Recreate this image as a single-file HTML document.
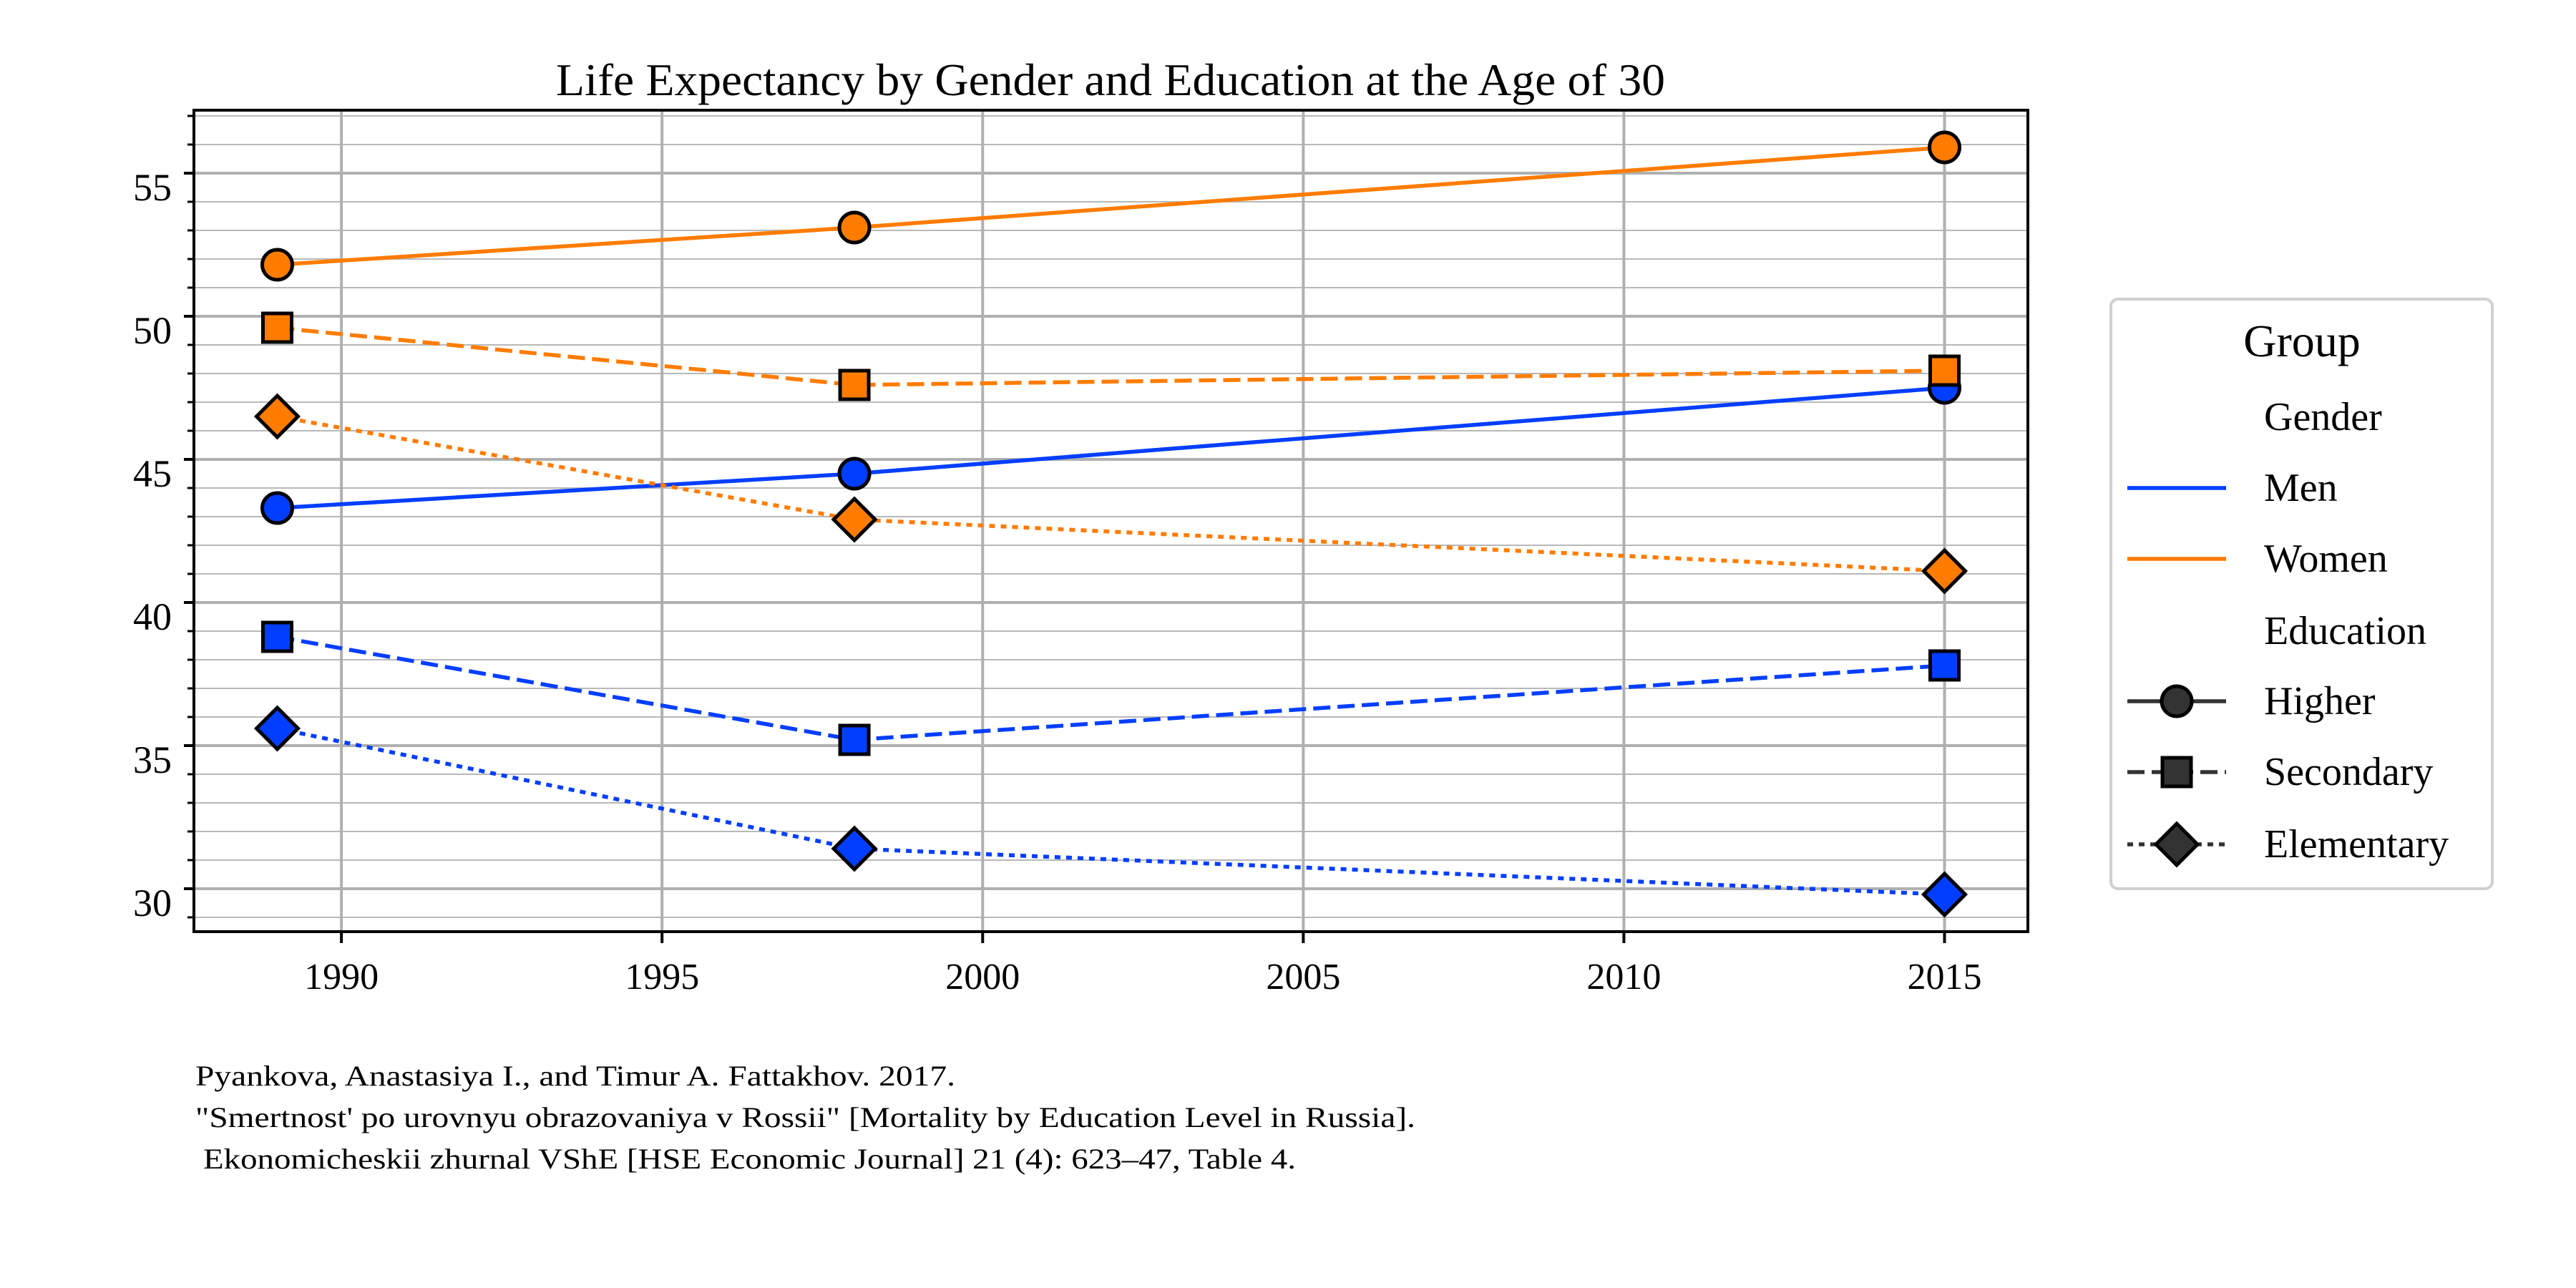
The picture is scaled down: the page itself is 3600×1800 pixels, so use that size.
<!DOCTYPE html>
<html><head><meta charset="utf-8"><style>
html,body{margin:0;padding:0;background:#fff;}
svg{display:block;font-family:"Liberation Serif",serif;}
</style></head><body>
<svg id="chart" width="3600" height="1800" viewBox="0 0 3600 1800">
<g id="grid"></g>
<g id="series"></g>
<g id="axes"></g>
<text x="1552" y="133" font-size="64" text-anchor="middle" textLength="1550" lengthAdjust="spacingAndGlyphs">Life Expectancy by Gender and Education at the Age of 30</text>
<g>
<rect x="2950" y="418" width="533" height="824" rx="10" fill="#fff" stroke="#d0d0d0" stroke-width="4"/>
<text x="3217" y="498" font-size="64" text-anchor="middle">Group</text>
<g id="legend-items"></g>
</g>
<g font-size="40">
<text x="273" y="1517" textLength="1062" lengthAdjust="spacingAndGlyphs">Pyankova, Anastasiya I., and Timur A. Fattakhov. 2017.</text>
<text x="273" y="1575" textLength="1705" lengthAdjust="spacingAndGlyphs">"Smertnost' po urovnyu obrazovaniya v Rossii" [Mortality by Education Level in Russia].</text>
<text x="284" y="1633" textLength="1527" lengthAdjust="spacingAndGlyphs">Ekonomicheskii zhurnal VShE [HSE Economic Journal] 21 (4): 623–47, Table 4.</text>
</g>
</svg>
<script>
const years = [1989, 1998, 2015];
const menHigher = [43.3, 44.5, 47.5];
const menSecondary = [38.8, 35.2, 37.8];
const menElementary = [35.6, 31.4, 29.8];
const womenHigher = [51.8, 53.1, 55.9];
const womenSecondary = [49.6, 47.6, 48.1];
const womenElementary = [46.5, 42.9, 41.1];
const xTicks = [1990, 1995, 2000, 2005, 2010, 2015];
const yTicks = [30, 35, 40, 45, 50, 55];

const NS = "http://www.w3.org/2000/svg";
const L = 271, R = 2834, T = 154, B = 1302;
const X0 = 1987.7, X1 = 2016.3, Y0 = 28.5, Y1 = 57.2;
const sx = v => L + (v - X0) / (X1 - X0) * (R - L);
const sy = v => B - (v - Y0) / (Y1 - Y0) * (B - T);
function mk(tag, attrs, parent) {
  const e = document.createElementNS(NS, tag);
  for (const k in attrs) e.setAttribute(k, attrs[k]);
  parent.appendChild(e);
  return e;
}
const grid = document.getElementById('grid');
const axes = document.getElementById('axes');
const ser = document.getElementById('series');

for (let v = Math.ceil(Y0); v <= Y1; v++) {
  const major = v % 5 === 0;
  const g = mk('line', {x1: L, x2: R, y1: sy(v), y2: sy(v), stroke: major ? '#b0b0b0' : '#b8b8b8', 'stroke-width': major ? 4 : 2}, grid);
  
  
  const t = mk('line', {x1: L - (major ? 14 : 9), x2: L, y1: sy(v), y2: sy(v), stroke: '#000', 'stroke-width': major ? 4 : 3}, axes);
  
  
}
xTicks.forEach(v => {
  const g = mk('line', {x1: sx(v), x2: sx(v), y1: T, y2: B, stroke: '#b0b0b0', 'stroke-width': 4}, grid);
  
  
  const t = mk('line', {x1: sx(v), x2: sx(v), y1: B, y2: B + 16, stroke: '#000', 'stroke-width': 4}, axes);
  
  
  const lb = mk('text', {x: sx(v), y: B + 80, 'font-size': 52, 'text-anchor': 'middle'}, axes);
  lb.textContent = v;
  
  
});
yTicks.forEach(v => {
  const lb = mk('text', {x: 240, y: sy(v) + 38, 'font-size': 54, 'text-anchor': 'end'}, axes);
  lb.textContent = v;
  
  
});
const frame = mk('rect', {x: L, y: T, width: R - L, height: B - T, fill: 'none', stroke: '#000', 'stroke-width': 4}, axes);



const BLUE = '#023eff', ORANGE = '#ff7c00';
const DASH = {higher: null, secondary: '24 10', elementary: '8 8'};
function marker(kind, x, y, fill, parent) {
  let e;
  if (kind === 'higher') e = mk('circle', {cx: x, cy: y, r: 21}, parent);
  else if (kind === 'secondary') e = mk('rect', {x: x - 20, y: y - 20, width: 40, height: 40}, parent);
  else e = mk('polygon', {points: `${x},${y-29} ${x+29},${y} ${x},${y+29} ${x-29},${y}`}, parent);
  e.setAttribute('fill', fill);
  e.setAttribute('stroke', '#000');
  e.setAttribute('stroke-width', 5);
  return e;
}
function series(vals, color, kind, name) {
  const g = mk('g', {}, ser);
  
  
  const pts = vals.map((v, i) => sx(years[i]) + ',' + sy(v)).join(' ');
  const pl = mk('polyline', {points: pts, fill: 'none', stroke: color, 'stroke-width': 5.5}, g);
  if (DASH[kind]) pl.setAttribute('stroke-dasharray', DASH[kind]);
  
  
  vals.forEach((v, i) => {
    const m = marker(kind, sx(years[i]), sy(v), color, g);
    
    
  });
}
series(menHigher, BLUE, 'higher', 'men-higher');
series(womenHigher, ORANGE, 'higher', 'women-higher');
series(menSecondary, BLUE, 'secondary', 'men-secondary');
series(womenSecondary, ORANGE, 'secondary', 'women-secondary');
series(menElementary, BLUE, 'elementary', 'men-elementary');
series(womenElementary, ORANGE, 'elementary', 'women-elementary');

const leg = document.getElementById('legend-items');
const entries = [
  ['Gender', 583, null, null], ['Men', 682, BLUE, null], ['Women', 781, ORANGE, null],
  ['Education', 882, null, null], ['Higher', 980, '#333', 'higher'],
  ['Secondary', 1079, '#333', 'secondary'], ['Elementary', 1180, '#333', 'elementary']
];
entries.forEach(([label, y, col, kind]) => {
  const g = mk('g', {}, leg);
  
  
  if (col) {
    const ln = mk('line', {x1: 2973, x2: 3111, y1: y, y2: y, stroke: col, 'stroke-width': 5.5}, g);
    if (kind && DASH[kind]) ln.setAttribute('stroke-dasharray', DASH[kind]);
    if (kind) marker(kind, 3042, y, '#333', g);
  }
  const t = mk('text', {x: 3164, y: y + 18, 'font-size': 56}, g);
  t.textContent = label;
});
</script>
</body></html>
